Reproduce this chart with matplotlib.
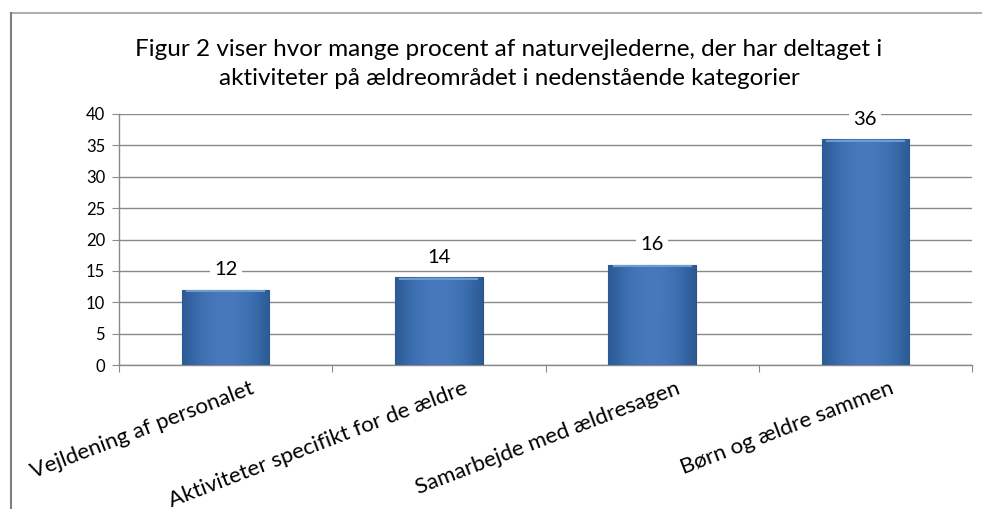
import numpy as np
import matplotlib
matplotlib.use("Agg")
import matplotlib.pyplot as plt
from matplotlib.lines import Line2D
from matplotlib.colors import LinearSegmentedColormap
import matplotlib.transforms as mtransforms

plt.rcParams['font.family'] = ['Lato', 'DejaVu Sans']

categories = ["Vejldening af personalet", "Aktiviteter specifikt for de ældre",
              "Samarbejde med ældresagen", "Børn og ældre sammen"]
values = [12, 14, 16, 36]
yticks = [0, 5, 10, 15, 20, 25, 30, 35, 40]
title = ("Figur 2 viser hvor mange procent af naturvejlederne, der har deltaget i\n"
         "aktiviteter på ældreområdet i nedenstående kategorier")

gridcol = '#8a8a8a'
edgecol = '#2b5283'
bar_cmap = LinearSegmentedColormap.from_list(
    'bev', ['#2c5a94', '#3c6fb0', '#4678bb', '#4678bb', '#3c6fb0', '#2c5a94'])

fig = plt.figure(figsize=(9.82, 5.09), dpi=100, facecolor='white')
ax = fig.add_axes([119/982, 1 - 365/509, (972 - 119)/982, (365 - 114)/509])

x = np.arange(len(categories))
bars = ax.bar(x, values, width=0.41, facecolor='#3f72b3', edgecolor=edgecol,
              linewidth=0.8, zorder=3)

# horizontal gradient inside each bar
grad = np.linspace(0, 1, 64).reshape(1, -1)
for b in bars:
    x0, y0 = b.get_x(), b.get_y()
    im = ax.imshow(grad, cmap=bar_cmap, aspect='auto', zorder=3.5,
                   extent=[x0, x0 + b.get_width(), y0, y0 + b.get_height()])
    im.set_clip_path(b)
    # lighter bevel along the top
    ax.plot([x0 + 0.02, x0 + b.get_width() - 0.02], [y0 + b.get_height() - 0.25] * 2,
            color='#6e9bd3', lw=1.5, zorder=4, solid_capstyle='butt')

ax.set_xlim(-0.5, len(categories) - 0.5)
ax.set_ylim(0, 40)
ax.set_yticks(yticks)
ax.set_yticklabels([str(t) for t in yticks], fontsize=12)
ax.yaxis.grid(True, color=gridcol, linewidth=1)
ax.set_axisbelow(True)

for s in ['top', 'right']:
    ax.spines[s].set_visible(False)
for s in ['left', 'bottom']:
    ax.spines[s].set_color(gridcol)
    ax.spines[s].set_linewidth(1)

ax.tick_params(axis='y', length=5, color=gridcol, pad=5)
ax.set_xticks(np.arange(len(categories) + 1) - 0.5)
ax.set_xticklabels([])
ax.tick_params(axis='x', length=5, color=gridcol)

# category labels, rotated, right end near the category centre
offset = mtransforms.ScaledTranslation(0.24, -0.13, fig.dpi_scale_trans)
for xi, lab in zip(x, categories):
    ax.text(xi, 0, lab, rotation=21, rotation_mode='anchor', ha='right', va='top',
            fontsize=16, transform=ax.get_xaxis_transform() + offset)

# value labels
for xi, v in zip(x, values):
    ax.annotate(str(v), (xi, v), xytext=(0, 20), textcoords='offset pixels',
                ha='center', va='center', fontsize=14.5, zorder=5,
                bbox=dict(facecolor='white', edgecolor='none', pad=3))

fig.text(509/982, 1 - 64/509, title, ha='center', va='center', fontsize=17.5,
         linespacing=1.5)

# outer frame (top and left)
fig.add_artist(Line2D([11/982, 1], [1 - 13/509] * 2, color='#b0b0b0', lw=1.5))
fig.add_artist(Line2D([11/982] * 2, [0, 1 - 13/509], color='#808080', lw=1.5))

fig.savefig('out.png', dpi=100, facecolor='white')
